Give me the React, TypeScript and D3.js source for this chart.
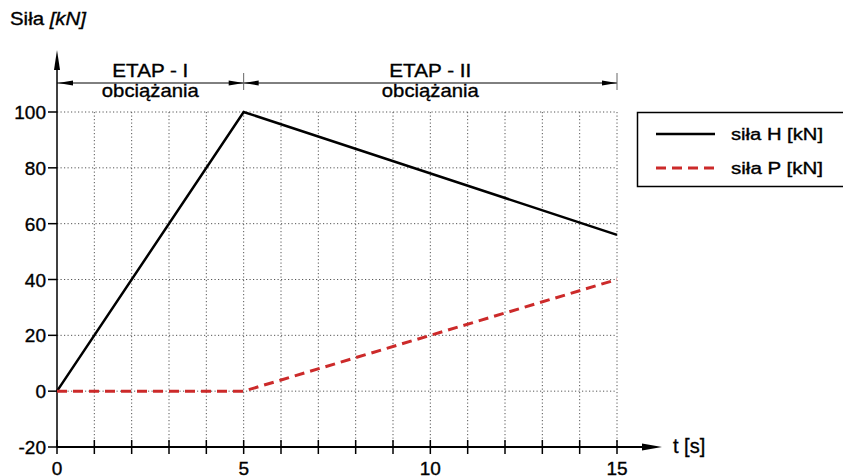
import React from "react";
import * as d3 from "d3";

const seriesH: [number, number][] = [[0, 0], [5, 100], [15, 56]];
const seriesP: [number, number][] = [[0, 0], [5, 0], [15, 40]];
const yTicks = [-20, 0, 20, 40, 60, 80, 100];
const xTicks = d3.range(0, 16);
const xLabels = [0, 5, 10, 15];
const legendItems = ["siła H [kN]", "siła P [kN]"];
const stages = [
  { from: 0, to: 5, title: "ETAP - I", sub: "obciążania" },
  { from: 5, to: 15, title: "ETAP - II", sub: "obciążania" },
];

const W = 843, H = 476;
const FONT = "Liberation Sans, Arial, sans-serif";
const TXT = { fill: "#000", stroke: "#000", strokeWidth: 0.35 } as const;

export default function App() {
  const x = d3.scaleLinear().domain([0, 15]).range([57, 617]);
  const y = d3.scaleLinear().domain([-20, 100]).range([447, 112]);
  const line = d3.line<[number, number]>().x(d => x(d[0])).y(d => y(d[1]));
  const dimY = 83;

  const arrowLeft = (tip: number) => `M${tip},${dimY} L${tip + 15},${dimY - 2.5} L${tip + 15},${dimY + 2.5} Z`;
  const arrowRight = (tip: number) => `M${tip},${dimY} L${tip - 15},${dimY - 2.5} L${tip - 15},${dimY + 2.5} Z`;

  return (
    <div style={{ position: "absolute", left: 0, top: 0 }}>
      <svg width={W} height={H} style={{ display: "block", background: "#fff" }} fontFamily={FONT}>
        {/* grid */}
        {yTicks.filter(v => v > -20).map(v => (
          <line key={"gy" + v} x1={x(0)} x2={x(15)} y1={y(v)} y2={y(v)} stroke="#555" strokeWidth={1} strokeDasharray="1.2,2.3" />
        ))}
        {xTicks.filter(v => v > 0).map(v => (
          <line key={"gx" + v} x1={x(v)} x2={x(v)} y1={y(100)} y2={y(-20)} stroke="#555" strokeWidth={1} strokeDasharray="1.2,2.3" />
        ))}

        {/* y axis */}
        <line x1={x(0)} x2={x(0)} y1={y(-20)} y2={60} stroke="#000" strokeWidth={1.5} />
        <path d={`M${x(0)},50 L${x(0) - 3},70 L${x(0) + 3},70 Z`} fill="#000" />
        {yTicks.map(v => (
          <g key={"yt" + v}>
            <line x1={x(0) - 9} x2={x(0)} y1={y(v)} y2={y(v)} stroke="#000" strokeWidth={1.5} />
            <text x={46} y={y(v) + 7} textAnchor="end" fontSize={19} {...TXT}>{v}</text>
          </g>
        ))}
        <text x={10} y={25} fontSize={18} textLength={76} lengthAdjust="spacingAndGlyphs" {...TXT}>
          Siła <tspan fontStyle="italic">[kN]</tspan>
        </text>

        {/* x axis */}
        <line x1={x(0)} x2={645} y1={y(-20)} y2={y(-20)} stroke="#000" strokeWidth={2} />
        <path d={`M662,${y(-20)} L642,${y(-20) - 3.5} L642,${y(-20) + 3.5} Z`} fill="#000" />
        {xTicks.map(v => (
          <line key={"xt" + v} x1={x(v)} x2={x(v)} y1={y(-20) - 7} y2={y(-20) + 7} stroke="#000" strokeWidth={1.5} />
        ))}
        {xLabels.map(v => (
          <text key={"xl" + v} x={x(v)} y={475} textAnchor="middle" fontSize={19} {...TXT}>{v}</text>
        ))}
        <text x={673} y={453} fontSize={20} {...TXT}>t [s]</text>

        {/* stage dimension lines */}
        <line x1={x(0)} x2={x(15)} y1={dimY} y2={dimY} stroke="#000" strokeWidth={1} />
        {[5, 15].map(v => (
          <line key={"dt" + v} x1={x(v)} x2={x(v)} y1={dimY - 10} y2={dimY + 7} stroke="#666" strokeWidth={1} />
        ))}
        <path d={arrowLeft(x(0) + 1)} fill="#000" />
        <path d={arrowRight(x(5))} fill="#000" />
        <path d={arrowLeft(x(5))} fill="#000" />
        <path d={arrowRight(x(15))} fill="#000" />
        {stages.map((s, i) => (
          <g key={s.title}>
            <text x={(x(s.from) + x(s.to)) / 2} y={77} textAnchor="middle" fontSize={18.5}
              textLength={i === 0 ? 76 : 82} lengthAdjust="spacingAndGlyphs" {...TXT}>{s.title}</text>
            <text x={(x(s.from) + x(s.to)) / 2} y={97} textAnchor="middle" fontSize={18.5}
              textLength={97} lengthAdjust="spacingAndGlyphs" {...TXT}>{s.sub}</text>
          </g>
        ))}

        {/* series */}
        <path d={line(seriesH) || ""} fill="none" stroke="#000" strokeWidth={2.5} strokeLinejoin="miter" />
        <path d={line(seriesP) || ""} fill="none" stroke="#cc2a2a" strokeWidth={3} strokeDasharray="10,6" />

        {/* legend */}
        <rect x={637.5} y={112.5} width={220} height={74} fill="#fff" stroke="#000" strokeWidth={1.5} />
        <line x1={656} x2={715} y1={134} y2={134} stroke="#000" strokeWidth={2.5} />
        <line x1={656} x2={715} y1={168} y2={168} stroke="#cc2a2a" strokeWidth={3} strokeDasharray="10,6" />
        <text x={731} y={140} fontSize={16} textLength={92} lengthAdjust="spacingAndGlyphs" {...TXT}>{legendItems[0]}</text>
        <text x={731} y={174} fontSize={16} textLength={92} lengthAdjust="spacingAndGlyphs" {...TXT}>{legendItems[1]}</text>
      </svg>
    </div>
  );
}
